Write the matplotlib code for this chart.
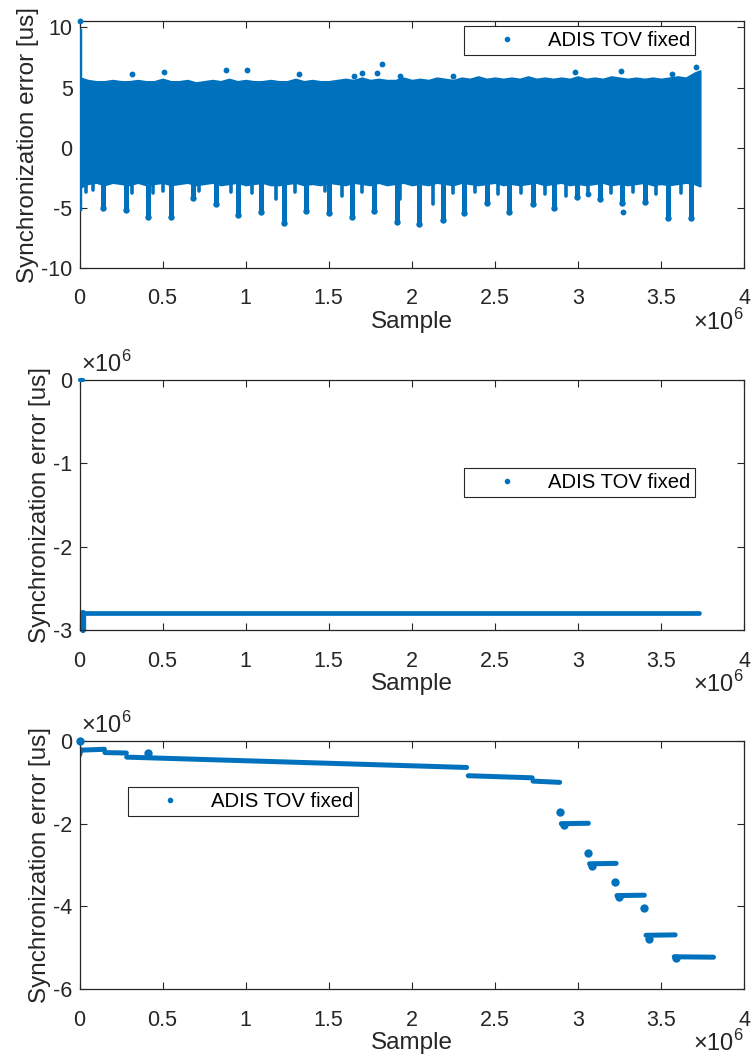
import numpy as np
import matplotlib
matplotlib.use("Agg")
import matplotlib.pyplot as plt
from matplotlib.ticker import FuncFormatter

plt.rcParams['font.family'] = ['Liberation Sans', 'DejaVu Sans']
plt.rcParams['mathtext.fontset'] = 'custom'
plt.rcParams['mathtext.rm'] = 'Liberation Sans'
plt.rcParams['axes.unicode_minus'] = False

BLUE = "#0072BD"
GREY = "#262626"
LABEL = "ADIS TOV fixed"

# ---------------- top panel: corrected error (us) ----------------
# core band envelope
band_x = np.array([0.005, 0.05, 0.1, 0.15, 0.2, 0.25, 0.3, 0.35, 0.4, 0.45, 0.5, 0.55,
                   0.6, 0.65, 0.7, 0.75, 0.8, 0.85, 0.9, 0.95, 1.0, 1.05, 1.1, 1.15,
                   1.2, 1.25, 1.3, 1.35, 1.4, 1.45, 1.5, 1.55, 1.6, 1.65, 1.7, 1.75,
                   1.8, 1.85, 1.9, 1.95, 2.0, 2.05, 2.1, 2.15, 2.2, 2.25, 2.3, 2.35,
                   2.4, 2.45, 2.5, 2.55, 2.6, 2.65, 2.7, 2.75, 2.8, 2.85, 2.9, 2.95,
                   3.0, 3.05, 3.1, 3.15, 3.2, 3.25, 3.3, 3.35, 3.4, 3.45, 3.5, 3.55,
                   3.6, 3.65, 3.7, 3.735]) * 1e6
band_hi = [5.8, 5.6, 5.5, 5.5, 5.6, 5.5, 5.5, 5.6, 5.5, 5.5, 5.7, 5.5, 5.5, 5.6, 5.4,
           5.5, 5.6, 5.5, 5.7, 5.5, 5.6, 5.5, 5.5, 5.6, 5.5, 5.5, 5.7, 5.5, 5.6, 5.5,
           5.5, 5.6, 5.7, 5.6, 5.8, 5.6, 5.7, 5.6, 5.6, 5.8, 5.6, 5.7, 5.6, 5.8, 5.7,
           5.6, 5.8, 5.7, 5.9, 5.7, 5.8, 5.7, 5.8, 5.7, 5.9, 5.7, 5.8, 5.7, 5.8, 5.7,
           5.9, 5.7, 5.8, 5.7, 5.9, 5.8, 5.7, 5.8, 5.7, 5.8, 5.7, 5.8, 5.9, 5.8, 6.2,
           6.4]
band_lo = [-3.3, -3.0, -2.9, -3.1, -2.9, -3.0, -3.1, -2.9, -3.1, -3.0, -2.9, -3.1,
           -3.0, -2.9, -3.1, -3.0, -2.9, -3.1, -3.0, -2.9, -3.1, -3.0, -2.9, -3.1,
           -3.1, -3.0, -2.9, -3.1, -3.0, -3.1, -2.9, -3.0, -3.1, -2.9, -3.0, -3.1,
           -2.9, -3.1, -3.0, -2.9, -3.1, -3.0, -3.1, -2.9, -3.0, -3.1, -2.9, -3.0,
           -3.1, -3.0, -2.9, -3.1, -3.0, -3.1, -3.0, -2.9, -3.1, -3.0, -2.9, -3.1,
           -3.0, -3.1, -3.0, -2.9, -3.1, -3.0, -3.1, -3.0, -2.9, -3.1, -3.0, -3.1,
           -3.0, -2.9, -3.0, -3.2]

# periodic negative spikes
dip_x = np.array([0.143, 0.278, 0.414, 0.551, 0.685, 0.820, 0.956, 1.093, 1.231,
                  1.364, 1.502, 1.639, 1.773, 1.910, 2.046, 2.186, 2.317, 2.455,
                  2.588, 2.728, 2.857, 2.993, 3.134, 3.268, 3.405, 3.541, 3.680]) * 1e6
dip_y = [-5.0, -5.2, -5.8, -5.8, -4.2, -4.7, -5.6, -5.4, -6.3, -5.25, -5.45, -5.8,
         -5.25, -6.2, -6.35, -6.0, -5.45, -4.6, -5.35, -4.7, -5.0, -4.1, -4.3, -4.6,
         -4.5, -5.85, -5.9]

# smaller spikes in between
minor_x = np.array([0.040, 0.080, 0.314, 0.440, 0.500, 0.720, 0.912, 1.040, 1.185,
                    1.300, 1.480, 1.580, 1.700, 1.930, 2.130, 2.250, 2.380, 2.520,
                    2.660, 2.800, 2.930, 3.060, 3.200, 3.330, 3.470, 3.620]) * 1e6
minor_y = [-3.7, -3.5, -3.8, -3.8, -3.6, -3.6, -3.7, -3.8, -4.3, -3.7, -3.6, -4.0,
           -3.7, -4.3, -4.7, -3.8, -3.7, -3.9, -3.8, -3.9, -4.0, -3.9, -3.8, -3.7,
           -3.9, -3.8]

# isolated outliers
out_x = np.array([0.314, 0.510, 0.880, 1.010, 1.320, 1.650, 1.700, 1.790, 1.820,
                  1.930, 2.250, 2.980, 3.260, 3.565, 3.710, 3.063, 3.270]) * 1e6
out_y = [6.1, 6.3, 6.45, 6.45, 6.1, 5.95, 6.2, 6.2, 6.95, 5.95, 6.0, 6.3, 6.4, 6.1,
         6.75, -3.9, -5.4]

# start-up transient at sample 0
spike_x = [0.004e6, 0.004e6]
spike_y = [-5.1, 9.7]
spike_top = 10.5

# ---------------- middle panel: raw error (us) ----------------
mid_flat_x = [0.0, 3.73e6]
mid_flat_y = [-2.80e6, -2.80e6]
mid_start_x = [0.02e6, 0.02e6]
mid_start_y = [-2.80e6, -3.0e6]
mid_first_x = [0.0, 0.02e6]
mid_first_y = [0.0, 0.0]

# ---------------- bottom panel: drifting error (us) ----------------
seg_x0 = np.array([0.000, 0.010, 0.153, 0.284, 2.340, 2.730, 2.900, 3.070, 3.235,
                   3.410, 3.580]) * 1e6
seg_x1 = np.array([0.010, 0.150, 0.282, 2.330, 2.725, 2.890, 3.063, 3.230, 3.400,
                   3.585, 3.816]) * 1e6
seg_y0 = np.array([-0.34, -0.22, -0.28, -0.39, -0.84, -0.97, -2.00, -2.97, -3.74,
                   -4.70, -5.22]) * 1e6
seg_y1 = np.array([-0.22, -0.20, -0.29, -0.64, -0.89, -1.00, -1.99, -2.96, -3.73,
                   -4.69, -5.23]) * 1e6
blob_x = np.array([0.000, 0.414, 2.893, 2.915, 3.063, 3.085, 3.225, 3.250, 3.400,
                   3.425, 3.590]) * 1e6
blob_y = np.array([0.0, -0.29, -1.71, -2.04, -2.70, -3.03, -3.42, -3.78, -4.03,
                   -4.79, -5.25]) * 1e6

x_ticks = np.arange(0, 4.01e6, 0.5e6)

fig = plt.figure(figsize=(7.53, 10.63), dpi=100)
ax1 = fig.add_axes([0.1056, 0.7482, 0.8825, 0.2316])
ax2 = fig.add_axes([0.1056, 0.4073, 0.8825, 0.2352])
ax3 = fig.add_axes([0.1056, 0.0696, 0.8825, 0.2333])

# top panel
ax1.fill_between(band_x, band_lo, band_hi, color=BLUE, lw=1.5, zorder=2)
for x, y in zip(dip_x, dip_y):
    ax1.plot([x, x], [-2.9, y], color=BLUE, lw=3.6, solid_capstyle="round", zorder=2)
for x, y in zip(minor_x, minor_y):
    ax1.plot([x, x], [-2.9, y], color=BLUE, lw=2.6, solid_capstyle="round", zorder=2)
ax1.plot(dip_x, dip_y, "o", color=BLUE, ms=4.6, mew=0, zorder=3)
ax1.plot(out_x, out_y, "o", color=BLUE, ms=4.2, mew=0, zorder=3)
ax1.plot(spike_x, spike_y, color=BLUE, lw=3.2, zorder=3)
ax1.plot([0.004e6], [spike_top], "o", color=BLUE, ms=4.2, mew=0, zorder=3,
         clip_on=False)
ax1.set_ylim(-10, 10.5)
ax1.set_yticks([-10, -5, 0, 5, 10])

# middle panel
ax2.plot(mid_flat_x, mid_flat_y, color=BLUE, lw=3.4, solid_capstyle="round", zorder=2)
ax2.plot(mid_start_x, mid_start_y, color=BLUE, lw=4.5, solid_capstyle="round", zorder=2,
         clip_on=False)
ax2.plot(mid_first_x, mid_first_y, color=BLUE, lw=3.0, solid_capstyle="round", zorder=3,
         clip_on=False)
ax2.set_ylim(-3e6, 0)
ax2.set_yticks([-3e6, -2e6, -1e6, 0])

# bottom panel
for x0, x1, y0, y1 in zip(seg_x0, seg_x1, seg_y0, seg_y1):
    ax3.plot([x0, x1], [y0, y1], color=BLUE, lw=3.6, solid_capstyle="round", zorder=2)
ax3.plot(blob_x, blob_y, "o", color=BLUE, ms=6.0, mew=0, zorder=3, clip_on=False)
ax3.set_ylim(-6e6, 0)
ax3.set_yticks([-6e6, -4e6, -2e6, 0])

fmt_e6 = FuncFormatter(lambda v, p: f"{v / 1e6:g}")
leg_pos = [("upper right", (0.926, 0.983)), ("upper right", (0.926, 0.649)),
           ("upper left", (0.0727, 0.816))]

for i, ax in enumerate([ax1, ax2, ax3]):
    ax.set_xlim(0, 4e6)
    ax.set_xticks(x_ticks)
    ax.xaxis.set_major_formatter(fmt_e6)
    if i > 0:
        ax.yaxis.set_major_formatter(fmt_e6)
        ax.annotate(r"$\times10^{6}$", xy=(0, 1), xycoords="axes fraction",
                    xytext=(1, 3), textcoords="offset pixels", ha="left", va="bottom",
                    fontsize=17, color=GREY)
    ax.annotate(r"$\times10^{6}$", xy=(1, 0), xycoords="axes fraction",
                xytext=(0, -41), textcoords="offset pixels", ha="right", va="top",
                fontsize=17, color=GREY)
    ax.tick_params(direction="in", length=4.8, width=0.8, top=True, right=True,
                   labelsize=15.5, colors=GREY, labelcolor=GREY)
    ax.tick_params(axis="x", pad=15)
    ax.tick_params(axis="y", pad=5)
    for s in ax.spines.values():
        s.set_color(GREY)
        s.set_linewidth(0.9)
    ax.set_xlabel("Sample", fontsize=17.5, color=GREY, labelpad=1)
    ax.set_ylabel("Synchronization error [us]", fontsize=17.5, color=GREY, labelpad=2)
    h, = ax.plot([], [], ".", color=BLUE, ms=6, label=LABEL)
    loc, anchor = leg_pos[i]
    leg = ax.legend(handles=[h], loc=loc, bbox_to_anchor=anchor, borderaxespad=0,
                    fontsize=14.6, handlelength=3.7, handletextpad=0.15,
                    borderpad=0.25, fancybox=False, framealpha=1, edgecolor=GREY)
    leg.get_frame().set_linewidth(0.8)
    for t in leg.get_texts():
        t.set_color("black")

fig.savefig("out.png", dpi=100)
